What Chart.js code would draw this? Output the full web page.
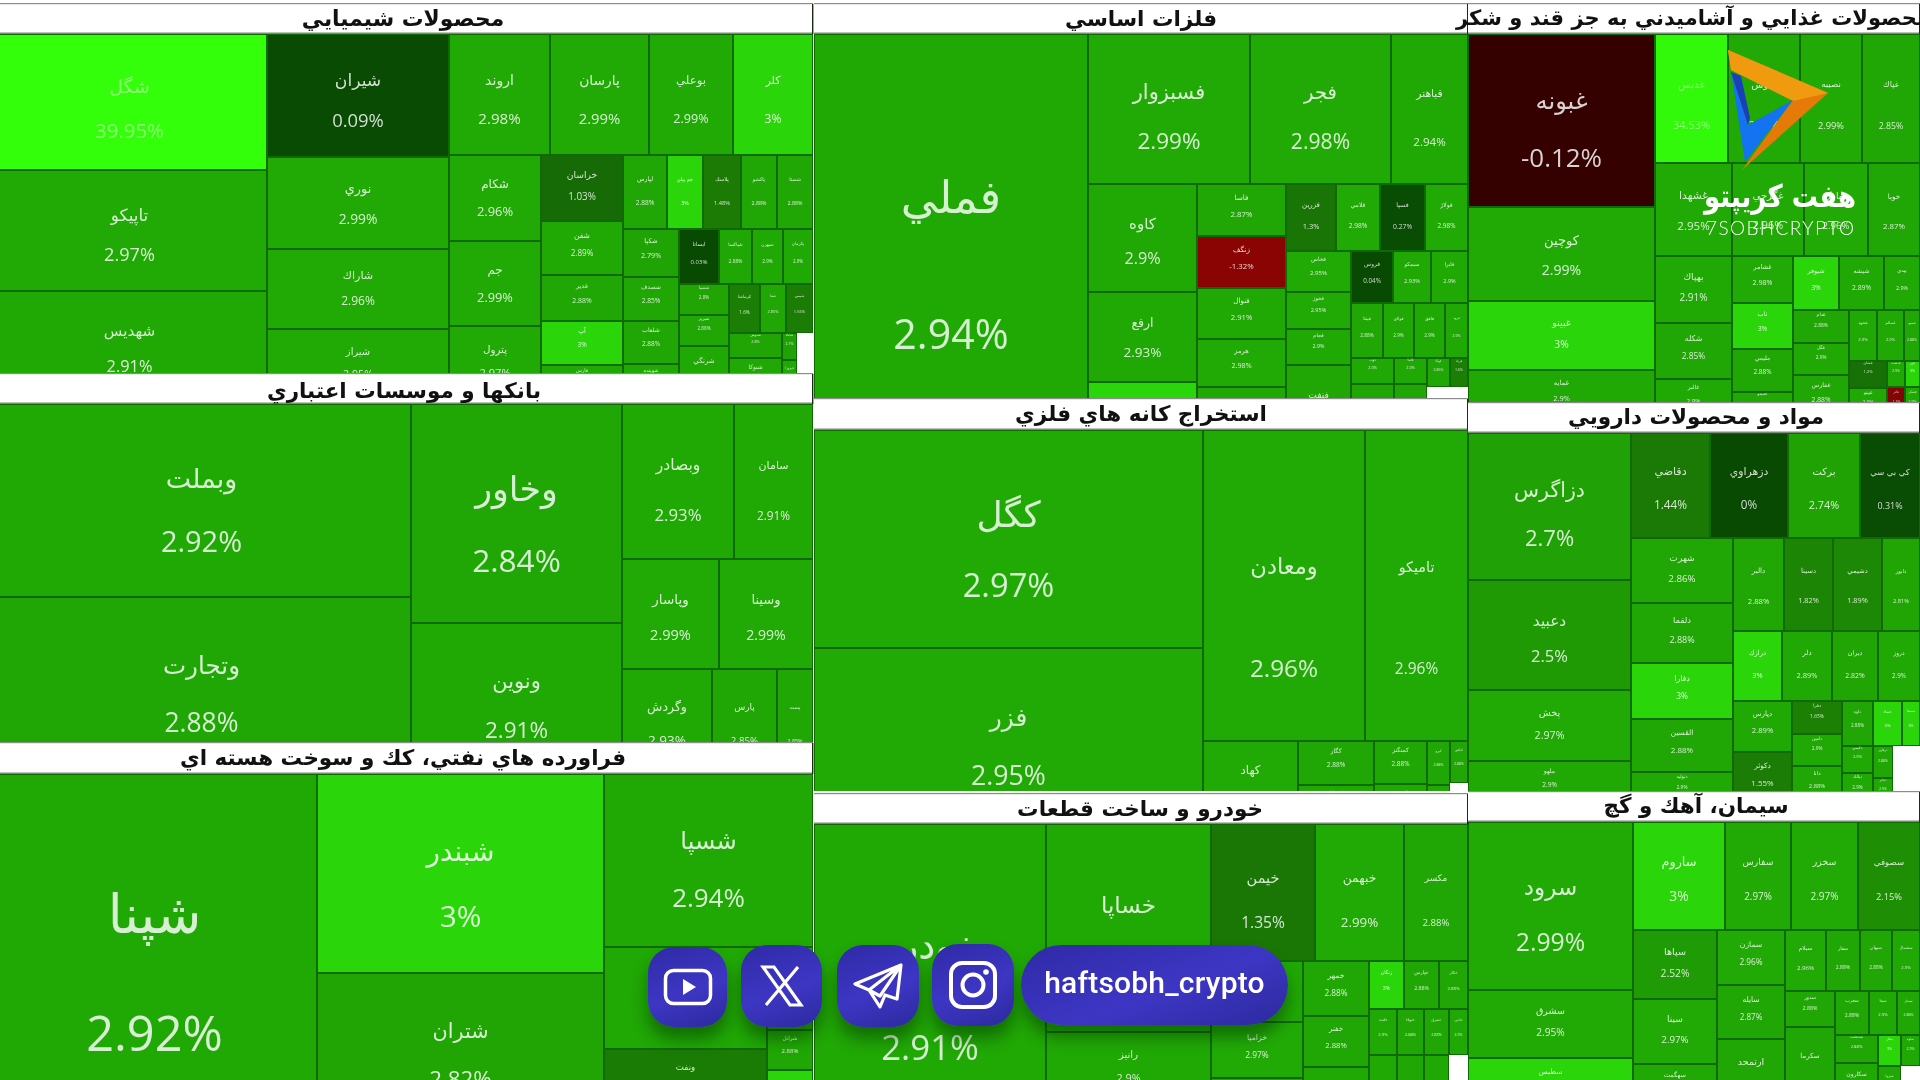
<!DOCTYPE html>
<html lang="fa"><head><meta charset="utf-8">
<style>
html,body{margin:0;padding:0;width:1920px;height:1080px;overflow:hidden;background:#fff}
#c{position:absolute;left:0;top:0;width:1920px;height:1080px;filter:blur(.45px)}
.btn{position:absolute;background:linear-gradient(160deg,#2f2aa6,#3d36c4 55%,#2c2a9e);box-shadow:0 12px 16px rgba(0,40,0,.45);display:flex;align-items:center;justify-content:center}
.btn svg{display:block}
#pill{color:#fff;font:500 30px Roboto,sans-serif;letter-spacing:.2px;padding-bottom:6px;box-sizing:border-box}
#ov{position:absolute;left:0;top:0}
#fa{position:absolute;left:1700px;top:176px;width:160px;text-align:center;color:#fff;font:bold 26px "DejaVu Sans";line-height:40px;direction:rtl;white-space:nowrap;transform:scaleY(1.2)}
#en{position:absolute;left:1706px;top:216px;width:160px;color:#fff;font:300 19px Lato,sans-serif;letter-spacing:1.4px;white-space:nowrap}
</style>
<script src="https://cdn.jsdelivr.net/npm/chart.js@4/dist/chart.umd.js"></script>
</head><body>
<canvas id="c" width="1920" height="1080"></canvas>
<svg id="ov" width="1920" height="1080">
 <path d="M1728 50 L1828 93 L1742 170 L1793 100 L1731 70Z" fill="#e67a08"/>
 <path d="M1728 50 L1828 93 L1793 101 L1731 70Z" fill="#f09a10"/>
 <path d="M1731 72 L1748 125 L1793 100 L1745 162Z" fill="#1473f0"/>
 <path d="M1731 72 L1741 76 L1750 118 L1748 125Z" fill="#1a3fb8"/>
</svg>
<div id="fa">هفت كريپتو</div>
<div id="en">7SOBHCRYPTO</div>
<div class="btn" style="left:648px;top:947px;width:79px;height:80px;border-radius:26px"><svg width="50" height="38" viewBox="0 0 50 38"><rect x="2.5" y="2.5" width="45" height="33" rx="8" fill="none" stroke="#fff" stroke-width="3.5"/><path d="M20 11 L33 19 L20 27Z" fill="#fff"/></svg></div>
<div class="btn" style="left:741px;top:945px;width:81px;height:82px;border-radius:26px"><svg width="44" height="42" viewBox="0 0 44 42"><path d="M3 2 H14 L41 40 H30Z M38 2 L6 40" fill="none" stroke="#fff" stroke-width="3.2"/></svg></div>
<div class="btn" style="left:837px;top:945px;width:82px;height:82px;border-radius:26px"><svg width="52" height="46" viewBox="0 0 52 46"><path d="M49 2 L3 21 L17 27 L28 44 L33 32 L45 36Z M17 27 L49 2 L28 33 Z" fill="none" stroke="#fff" stroke-width="3.2" stroke-linejoin="round"/></svg></div>
<div class="btn" style="left:932px;top:944px;width:82px;height:82px;border-radius:26px"><svg width="50" height="50" viewBox="0 0 50 50"><rect x="3" y="3" width="44" height="44" rx="11" fill="none" stroke="#fff" stroke-width="4"/><circle cx="25" cy="25" r="10.5" fill="none" stroke="#fff" stroke-width="4"/><circle cx="38" cy="12" r="2.8" fill="#fff"/></svg></div>
<div class="btn" id="pill" style="left:1021px;top:945px;width:267px;height:80px;border-radius:40px">haftsobh_crypto</div>
<script>
// ---------- Data: tickers, daily change %, and tile weight (size) per sector ----------
const sectorTitles = ['محصولات شيميايي','بانكها و موسسات اعتباري','فراورده هاي نفتي، كك و سوخت هسته اي','فلزات اساسي','استخراج كانه هاي فلزي','خودرو و ساخت قطعات','محصولات غذايي و آشاميدني به جز قند و شكر','مواد و محصولات دارويي','سيمان، آهك و گچ'];

const chemNames = ['شگل','تاپيكو','شهديس','شيران','نوري','شاراك','شيراز','اروند','پارسان','بوعلي','كلر','شكام','جم','پترول','خراسان','شفن','غدير','آپ','فارس','لپارس','جم پيلن','پلاسك','پاكشو','شستا','شكپا','شصدف','شلعاب','شوينده','ايساتا','شپاكسا','شبهرن','پكرمان','شسپا','شبريز','شرنگي','كرماشا','شفا','شيمي','شدوص','شتوكا','شاملا','فيروزا',null];
const chemChange = [39.95,2.97,2.91,0.09,2.99,2.96,2.95,2.98,2.99,2.99,3,2.96,2.99,2.97,1.03,2.89,2.88,3,2.9,2.88,3,1.48,2.88,2.88,2.79,2.85,2.88,2.9,0.03,2.88,2.9,2.9,2.8,2.88,2.9,1.6,2.85,1.55,2.8,2.9,2.7,2.9,null];
const chemWeight = [3740,3328,2997,2239,1674,1456,1292,1222,1198,1016,968,791,782,681,541,443,377,361,287,326,266,281,266,266,269,246,241,202,220,182,171,165,155,155,270,152,127,132,133,223,41,60,107];
const chemTree = ['c',['r',3],['r',4],['r',['c',4],['c',['r',3],['r',5],['r',['c',5],['c',['r',4],['r',['c',4],['c',['r',3],['r',['c',3],['c',['r',2],['r',2],1]]]]]]]]];

const bankNames = ['وبملت','وتجارت','وخاور','ونوين','وبصادر','سامان','وپاسار','وسينا','وگردش','پارس','پست'];
const bankChange = [2.92,2.88,2.84,2.91,2.93,2.91,2.99,2.99,2.93,2.85,2.85];
const bankWeight = [8086,7374,4621,3165,1736,1225,1067,1034,936,676,374];
const bankTree = ['c',['r',2],['r',2],['r',['c',2],['c',2],['c',3]]];

const oilNames = ['شپنا','شبندر','شتران',null,'شسپا','شراز','ونفت',null,'شاوان','شرانل','شنفت'];
const oilChange = [2.92,3,2.82,null,2.94,2.9,1.5,null,2.9,2.88,3];
const oilWeight = [11797,5711,4276,431,3616,1663,1011,424,382,184,308];
const oilTree = ['c',1,['r',3],['r',1,['c',['r',3],['r',3]]]];

const metalNames = ['فملي','فسبزوار','فجر','فباهنر','كاوه','ارفع','فسرب','فاسا','زنگف','فنوال','هرمز','فرآور','فزرين','فلامي','فسپا','فولاژ','فخاس','فخوز','فجام','فنفت','فروس','سيمكو','فايرا','فپنتا','فولاي','فافق','فرود','ذوب','فگستر','فاما','فكمند','فوكا','فرباد',null];
const metalChange = [2.94,2.99,2.98,2.94,2.9,2.93,3,2.87,-1.32,2.91,2.98,2.9,1.3,2.98,0.27,2.98,2.95,2.95,2.9,2.88,0.04,2.93,2.9,2.88,2.9,2.9,2.9,2.9,2.88,2.9,2.88,2.85,1.6,null];
const metalWeight = [11453,2430,2115,1155,1177,981,763,463,463,454,427,579,335,295,303,288,267,241,234,566,218,198,192,176,171,171,127,112,292,86,224,67,52,267];
const metalTree = ['c',1,['r',['c',3],['c',['r',3],['r',5],['r',['c',4],['c',['r',4],['r',['c',3],['c',4],['c',['r',2],['r',2],['r',['c',2],1]]]]]]]];

const mineNames = ['كگل','فزر','ومعادن','تاميكو','كهاد','كگاز','كساپا','كمنگنز','كروي','كپرو','كنور','كبافق',null];
const mineChange = [2.97,2.95,2.96,2.96,2.97,2.88,2.9,2.88,2.9,2.88,2.9,2.88,null];
const mineWeight = [8480,6924,5038,3203,808,330,308,228,223,101,94,76,77];
const mineTree = ['c',['r',2],['r',['c',2],['c',1,['r',2],['r',2],['r',2],['r',2]]]];

const carNames = ['خودرو','خساپا','رانيز',null,'خيمن','خبهمن','مكسر','خاور','خزاميا','خكاوه','خمهر','خفنر','ختور','زنگان','خپارس','خكار','خلنت','ختوقا','خشرق','خاذين','خريخت','خمحور','خچرخش',null];
const carChange = [2.91,2.9,2.9,null,1.35,2.99,2.88,2.9,2.97,2.9,2.88,2.88,2.9,3,2.88,2.88,2.9,2.88,2.88,2.9,2.9,2.88,2.9,null];
const carWeight = [7238,3432,1188,528,1425,1219,877,561,515,534,363,337,455,168,168,139,129,124,115,87,227,219,203,154];
const carTree = ['c',1,['r',3],['r',['c',3],['c',['r',3],['r',3],['r',['c',3],['c',4],['c',4]]]]];

const foodNames = ['غبونه','كوچين','غبينو','غمايه','غديس','غنوش','نصيبه','غپاك','غشهدا','غگرجي','غمارگ','خوبا','بهپاك','شكله','غالبر','غشامر','ثاب','مليمي','غصينو','شيوفر','شيشه','بيدي','غدام','غگل','غفارس','غشهد','غسالم','غمينو','غشان','غپينو','غدشت','غاذر','غزر','قشكر'];
const foodChange = [-0.12,2.99,3,2.9,34.53,2.95,2.99,2.85,2.95,2.96,2.96,2.87,2.91,2.85,2.9,2.98,3,2.88,2.9,3,2.89,2.9,2.88,2.9,2.88,2.9,2.9,2.88,1.2,2.9,2.9,-1.2,3,2.9];
const foodWeight = [3235,1758,1290,935,942,929,800,748,716,670,595,484,516,431,316,287,281,262,171,248,243,194,185,179,252,143,138,82,103,122,47,59,39,50];
const foodTree = ['c',['r',4],['r',['c',4],['c',4],['c',['r',3],['r',4],['r',['c',3],['c',['r',3],['r',['c',3],['c',['r',2],['r',2],['r',2]]]]]]]];

const drugNames = ['دزاگرس','دعبيد','پخش','ملهو','دقاضي','دزهراوي','بركت','كي بي سي','شهرت','دلقما','دفارا','القسين','دتوليد','دالبر','دسينا','دشيمي','دابور','درازك','دلر','ديران','دروز','دپارس','دكوثر','دفرا','دامين','دانا','داوه','دتماد','دسبحا','دكيمي','دبالك','درهآور','دجابر',null];
const drugChange = [2.7,2.5,2.97,2.9,1.44,0,2.74,0.31,2.86,2.88,3,2.88,2.9,2.88,1.82,1.89,2.81,3,2.89,2.82,2.9,2.89,1.55,1.65,2.9,2.88,2.88,3,3,2.9,2.9,2.88,2.9,null];
const drugWeight = [2396,1793,1157,717,830,819,756,630,663,612,571,541,337,474,456,456,353,343,350,322,294,301,313,165,160,195,140,131,81,84,99,64,54,159];
const drugTree = ['c',['r',4],['r',['c',4],['c',['r',5],['r',['c',4],['c',4],['c',['r',2],['r',3],['r',['c',3],['c',['r',2],['r',2],1]]]]]]];

const cementNames = ['سرود','سشرق','سطبس','ساروم','سفارس','سخزر','سصوفي','سپاها','سينا','سهگمت','سمازن','سايله','ارتمحد','سيلام','سفار','سبهان','سشمال','سدور','سكرما','سغرب','سيتا','سمتاز','سدشت','سكارون','سلار','سبزوا','ساوه',null];
const cementChange = [2.99,2.95,3,3,2.97,2.97,2.15,2.52,2.97,2.9,2.96,2.87,2.88,2.96,2.88,2.88,2.9,2.88,2.88,2.88,2.9,2.88,2.88,2.9,3,2.9,2.9,null];
const cementWeight = [2772,1122,858,994,713,722,670,580,546,386,374,367,483,250,207,195,171,180,415,150,123,101,120,202,71,101,59,84];
const cementTree = ['c',['r',3],['r',['c',4],['c',['r',3],['r',3],['r',['c',4],['c',['r',2],['r',['c',3],['c',['r',2],['r',2],['r',2]]]]]]]];

// ---------- Layout frames of the sector panels (page geometry, not data) ----------
const frames = [
 {x0:-8,x1:813,strip:4,top:34,bottom:373,over:400,tx:403,ty:20,fs:21.8},
 {x0:-8,x1:813,strip:374,top:404,bottom:743,over:773,tx:404,ty:392,fs:21.5},
 {x0:-8,x1:813,strip:743,top:774,bottom:1080,over:1137,tx:403,ty:759,fs:21.5},
 {x0:814,x1:1468,strip:4,top:34,bottom:398,over:452,tx:1141,ty:20,fs:21.5},
 {x0:814,x1:1468,strip:399,top:430,bottom:791,over:826,tx:1141,ty:415,fs:21.5},
 {x0:814,x1:1468,strip:794,top:824,bottom:1080,over:1136,tx:1140,ty:810,fs:21.5},
 {x0:1468,x1:1920,strip:4,top:34,bottom:403,over:420,tx:1693,ty:20,fs:21},
 {x0:1468,x1:1920,strip:403,top:433,bottom:791,over:805,tx:1696,ty:418,fs:21.5},
 {x0:1468,x1:1920,strip:792,top:822,bottom:1080,over:1110,tx:1696,ty:807,fs:21.5}
];
const sectors = [
 [chemNames,chemChange,chemWeight,chemTree],[bankNames,bankChange,bankWeight,bankTree],[oilNames,oilChange,oilWeight,oilTree],
 [metalNames,metalChange,metalWeight,metalTree],[mineNames,mineChange,mineWeight,mineTree],[carNames,carChange,carWeight,carTree],
 [foodNames,foodChange,foodWeight,foodTree],[drugNames,drugChange,drugWeight,drugTree],[cementNames,cementChange,cementWeight,cementTree]
];

// ---------- Colour scale for change % ----------
const stops = [[-1.33,[140,4,4]],[-0.13,[52,0,0]],[-0.01,[48,0,0]],[0,[9,74,2]],[0.3,[9,76,3]],[1.03,[22,107,6]],[1.44,[27,122,5]],[2.5,[31,154,5]],[2.9,[32,168,5]],[2.99,[33,170,6]],[3,[42,214,10]],[39.95,[51,255,10]]];
function colorOf(p){
  if(p<=stops[0][0])return stops[0][1];
  for(let i=1;i<stops.length;i++){if(p<=stops[i][0]){const a=stops[i-1],b=stops[i],t=(p-a[0])/(b[0]-a[0]);return a[1].map((v,k)=>Math.round(v+(b[1][k]-v)*t));}}
  return stops[stops.length-1][1];
}
const css=c=>`rgb(${c[0]},${c[1]},${c[2]})`;
const mixWhite=(c,t)=>c.map(v=>Math.round(v+(255-v)*t));

// ---------- Slice-and-dice layout from the weights ----------
function layoutTree(spec,weights){
  let next=0;
  function build(item){
    if(typeof item==='number'){const a=[];for(let i=0;i<item;i++){a.push({leaf:next,size:weights[next]});next++;}return a;}
    const kids=[];item.slice(1).forEach(s=>kids.push(...build(s)));
    return [{dir:item[0],kids,size:kids.reduce((s,k)=>s+k.size,0)}];
  }
  const root=build(spec)[0];
  const rects=[];
  (function place(n,x,y,w,h){
    if(n.leaf!==undefined){rects[n.leaf]={x,y,w,h};return;}
    let off=0;
    n.kids.forEach(k=>{const f=k.size/n.size;
      if(n.dir==='c'){place(k,x+off*w,y,f*w,h);}else{place(k,x,y+off*h,w,f*h);}
      off+=f;});
  })(root,0,0,1,1);
  return rects;
}

class SectorTreemapController extends Chart.DatasetController{
  static id='sectorTreemap';
  static defaults={dataElementType:'bar'};
  static overrides={scales:{x:{type:'linear'},y:{type:'linear'}}};
  update(){
    const meta=this._cachedMeta,ds=this.getDataset(),f=ds.frame,X=meta.xScale,Y=meta.yScale;
    const rects=layoutTree(ds.tree,ds.data.map(d=>d.weight));
    meta.data.forEach((el,i)=>{
      const d=ds.data[i],r=rects[i];
      const l=Math.round(X.getPixelForValue(f.x0+r.x*(f.x1-f.x0))),rr=Math.round(X.getPixelForValue(f.x0+(r.x+r.w)*(f.x1-f.x0)));
      const t=Math.round(Y.getPixelForValue(f.top+r.y*(f.over-f.top))),b=Math.round(Y.getPixelForValue(f.top+(r.y+r.h)*(f.over-f.top)));
      const empty=d.name===null;
      Object.assign(el,{x:(l+rr)/2,y:t,base:b,width:rr-l,height:b-t,horizontal:false,inflateAmount:0,enableBorderRadius:false,
        borderSkipped:{top:false,left:false,bottom:false,right:false},
        options:{backgroundColor:empty?'#ffffff':css(colorOf(d.pct)),borderColor:empty?'#ffffff':'#0f6a04',borderWidth:empty?0:1,borderRadius:0}});
    });
  }
  draw(){
    const ds=this.getDataset(),f=ds.frame,ctx=this._ctx,meta=this._cachedMeta,X=meta.xScale,Y=meta.yScale;
    const clipBottom=Y.getPixelForValue(f.bottom);
    ctx.save();
    ctx.beginPath();
    const cl=X.getPixelForValue(f.x0),ct=Y.getPixelForValue(f.top);
    ctx.rect(cl,ct,X.getPixelForValue(f.x1)-cl,clipBottom-ct);
    ctx.clip();
    meta.data.forEach(el=>el.draw(ctx));
    ctx.textAlign='center';ctx.textBaseline='middle';
    meta.data.forEach((el,i)=>{
      const d=ds.data[i];if(d.name===null)return;
      const w=el.width,h=el.height,fs=Math.max(3.5,0.15*Math.min(w,h));
      if(w<8)return;
      const tall=(h>220&&el.base<=clipBottom)?0.0005*(h-220):0;
      const ny=el.y+Math.max(2,h<130?0.48*h-11:(0.4+tall)*h),py=el.y+Math.max(6,h<130?0.8*h-11:(0.725+tall)*h);
      const col=colorOf(d.pct);
      ctx.fillStyle=css(mixWhite(col,d.pct>5?0.45:0.82));
      ctx.direction='rtl';
      ctx.font=`${fs*(fs>30?1.1:0.93)}px "DejaVu Sans"`;
      ctx.fillText(d.name,el.x,ny);
      ctx.direction='ltr';
      ctx.font=`${fs}px "Open Sans"`;
      ctx.fillText(d.pct+'%',el.x,py);
    });
    ctx.restore();
  }
}
Chart.register(SectorTreemapController);

const titleBars={id:'titleBars',afterDatasetsDraw(chart){
  const ctx=chart.ctx,X=chart.scales.x,Y=chart.scales.y;
  ctx.save();
  frames.forEach(f=>{
    const l=X.getPixelForValue(f.x0),r=X.getPixelForValue(f.x1),t=Y.getPixelForValue(f.strip),b=Y.getPixelForValue(f.top);
    ctx.fillStyle='#ffffff';ctx.fillRect(l,t,r-l,b-t);
    ctx.fillStyle='#7d8a7a';ctx.fillRect(l,b-1.5,r-l,1.5);
    ctx.fillStyle='#8c8c8c';ctx.fillRect(l,t-1,r-l,1.2);
    ctx.fillStyle='#1c2a18';ctx.fillRect(r-1,t,1.4,b-t);
  });
  ctx.fillStyle='#111';ctx.textAlign='center';ctx.textBaseline='middle';ctx.direction='rtl';
  frames.forEach((f,i)=>{ctx.font=`bold ${f.fs}px "DejaVu Sans"`;ctx.fillText(sectorTitles[i],X.getPixelForValue(f.tx),Y.getPixelForValue(f.ty));});
  ctx.restore();
}};

new Chart(document.getElementById('c'),{
  type:'sectorTreemap',
  data:{datasets:sectors.map((s,i)=>({
    label:sectorTitles[i],tree:s[3],frame:frames[i],
    data:s[0].map((n,k)=>({name:n,pct:s[1][k],weight:s[2][k]}))
  }))},
  options:{responsive:false,devicePixelRatio:1,animation:false,events:[],parsing:false,
    layout:{padding:0},
    plugins:{legend:{display:false},tooltip:{enabled:false},title:{display:false}},
    scales:{x:{type:'linear',min:0,max:1920,display:false},y:{type:'linear',min:0,max:1080,reverse:true,display:false}}},
  plugins:[titleBars]
});
</script>
</body></html>
